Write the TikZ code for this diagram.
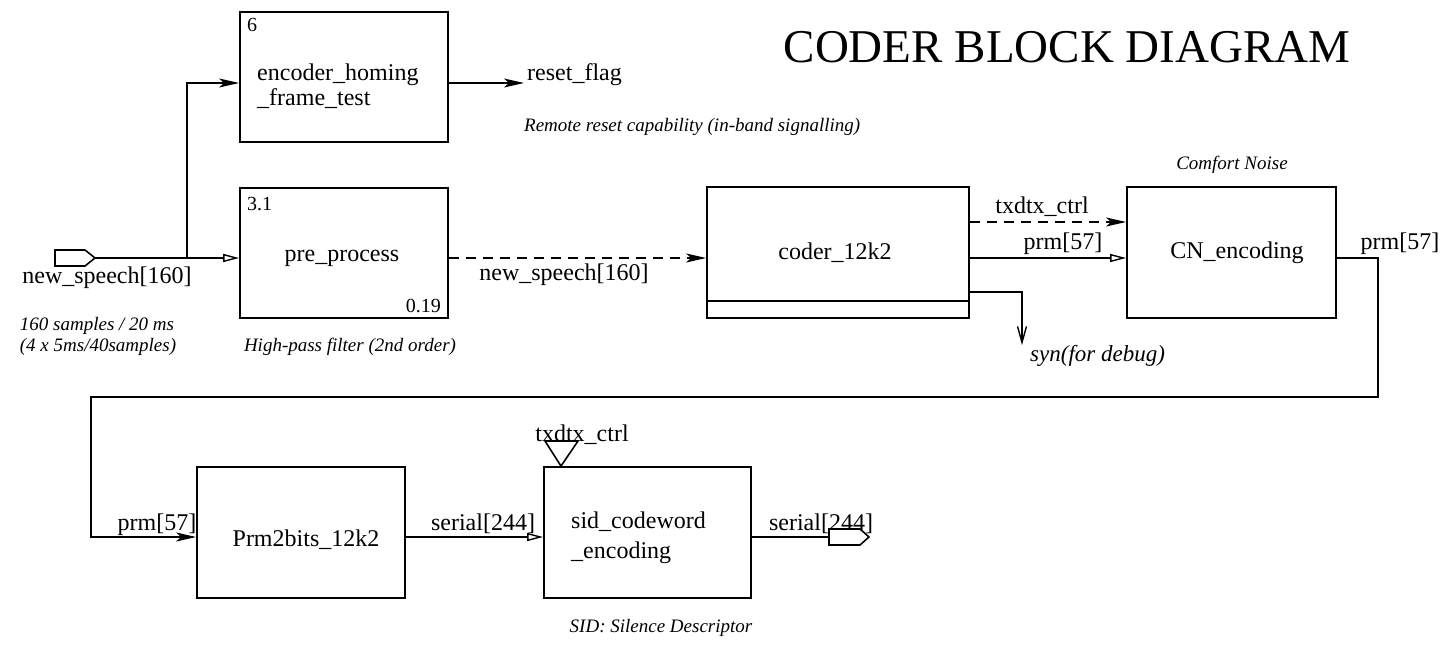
\documentclass[tikz,border=0pt]{standalone}
\usepackage{fontspec}
\setmainfont{Liberation Serif}
\usetikzlibrary{arrows.meta}
\newcommand{\dgMain}{\fontsize{24}{28}\selectfont}
\newcommand{\dgNum}{\fontsize{20}{24}\selectfont}
\newcommand{\dgIt}{\fontsize{19}{23}\selectfont\itshape}
\newcommand{\dgSyn}{\fontsize{23}{27}\selectfont\itshape}
\newcommand{\dgTitle}{\fontsize{47}{52}\selectfont}
\begin{document}
\begin{tikzpicture}[x=1pt,y=-1pt,
  blk/.style={draw, line width=1.8pt, inner sep=0pt},
  ln/.style={line width=1.6pt},
  dsh/.style={line width=1.6pt, dash pattern=on 10pt off 7pt},
  fa/.style={-{Stealth[length=20pt,width=9pt,inset=5pt]}},
  oa/.style={-{Triangle[open,length=16pt,width=8pt,line width=1.4pt]}},
  va/.style={-{Straight Barb[length=16pt,width=9pt,line width=1.4pt]}},
  txt/.style={inner sep=0pt, font=\dgMain},
  num/.style={inner sep=0pt, font=\dgNum},
  itl/.style={inner sep=0pt, font=\dgIt}]
\useasboundingbox (0,0) rectangle (1452,650);
\fill[white] (0,0) rectangle (1452,650);

% title
\node[inner sep=0pt, font=\dgTitle, anchor=base] (title) at (1067,63) {CODER BLOCK DIAGRAM};

% blocks
\node[blk, minimum width=208pt, minimum height=130pt] (enc) at (344,77) {};
\node[blk, minimum width=208pt, minimum height=130pt] (pre) at (344,253) {};
\node[blk, minimum width=262pt, minimum height=131pt] (coder) at (838,252.5) {};
\node[blk, minimum width=209pt, minimum height=131pt] (cn) at (1231.5,252.5) {};
\node[blk, minimum width=208pt, minimum height=131pt] (p2b) at (301,532.5) {};
\node[blk, minimum width=207pt, minimum height=131pt] (sid) at (647.5,532.5) {};

% coder inner line
\coordinate (cl) at (0,301);
\draw[line width=1.8pt] (coder.west |- cl) -- (coder.east |- cl);

% block texts
\node[num, anchor=base west] (n6) at (247,32) {6};
\node[txt, anchor=base west] (enct1) at (257,81) {encoder\_homing};
\node[txt, anchor=base west] (enct2) at (257,106) {\_frame\_test};
\node[num, anchor=base west] (n31) at (247,211) {3.1};
\node[txt, anchor=base] (pret) at (342,261) {pre\_process};
\node[num, anchor=base east] (n019) at (441,312) {0.19};
\node[txt, anchor=base] (codert) at (835,259) {coder\_12k2};
\node[txt, anchor=base] (cnt) at (1237,258) {CN\_encoding};
\node[txt, anchor=base] (p2bt) at (306,546) {Prm2bits\_12k2};
\node[txt, anchor=base west] (sidt1) at (571,528) {sid\_codeword};
\node[txt, anchor=base west] (sidt2) at (571,558) {\_encoding};

% input port
\draw[ln] (55,250) -- (85,250) -- (95,258) -- (85,266) -- (55,266) -- cycle;
\coordinate (inpt) at (95,258);
\coordinate (split) at (187,258);
\coordinate (encin) at (187,83);
\coordinate (main) at (0,258);
\node[txt, anchor=base] (inlbl) at (107,283) {new\_speech[160]};
\node[itl, anchor=base] (inn1) at (97,330) {160 samples / 20 ms};
\node[itl, anchor=base] (inn2) at (98,351) {(4 x 5ms/40samples)};

\draw[ln, oa] (inpt) -- (inpt -| pre.west);
\draw[ln, fa] (split) -- (encin) -- (encin -| enc.west);

% reset flag
\coordinate (rf) at (524,83);
\draw[ln, fa] (encin -| enc.east) -- (rf);
\node[txt, anchor=base west] (rflbl) at (527,81) {reset\_flag};
\node[itl, anchor=base west] (remote) at (524,132) {Remote reset capability (in-band signalling)};

% pre -> coder
\node[itl, anchor=base] (hp) at (350,351) {High-pass filter (2nd order)};
\draw[dsh, fa] (pre.east |- main) -- (coder.west |- main);
\node[txt, anchor=base] (nslbl) at (564,280) {new\_speech[160]};

% coder -> CN
\coordinate (tx) at (0,222);
\draw[dsh, fa] (coder.east |- tx) -- (cn.west |- tx);
\node[txt, anchor=base] (txlbl) at (1042,214) {txdtx\_ctrl};
\draw[ln, oa] (coder.east |- main) -- (cn.west |- main);
\node[txt, anchor=base] (prmlbl) at (1063,249) {prm[57]};
\node[itl, anchor=base] (cnoise) at (1232,170) {Comfort Noise};

% syn
\coordinate (sy) at (1022,292);
\coordinate (synend) at (1022,345);
\draw[ln, va] (coder.east |- sy) -- (sy) -- (synend);
\node[inner sep=0pt, font=\dgSyn, anchor=base west] (synlbl) at (1030,361) {syn(for debug)};

% feedback
\coordinate (fb1) at (1378,397);
\coordinate (fb2) at (91,397);
\coordinate (low) at (0,537);
\draw[ln, fa] (cn.east |- main) -| (fb1) -- (fb2) |- (p2b.west |- low);
\node[txt, anchor=base] (prmr) at (1400,249) {prm[57]};
\node[txt, anchor=base] (prml) at (157,530) {prm[57]};

% p2b -> sid
\draw[ln, oa] (p2b.east |- low) -- (sid.west |- low);
\node[txt, anchor=base] (serlbl) at (483,530) {serial[244]};

% txdtx_ctrl port
\node[txt, anchor=base] (tx2lbl) at (582,441) {txdtx\_ctrl};
\draw[ln] (545,441) -- (578,441) -- (sid.north -| 561,0) -- cycle;

% output
\coordinate (outp) at (829,537);
\draw[ln] (sid.east |- low) -- (outp);
\draw[ln] (829,529) -- (860,529) -- (869,537) -- (860,545) -- (829,545) -- cycle;
\node[txt, anchor=base] (serout) at (821,530) {serial[244]};
\node[itl, anchor=base] (sidn) at (661,632) {SID: Silence Descriptor};
\end{tikzpicture}
\end{document}
